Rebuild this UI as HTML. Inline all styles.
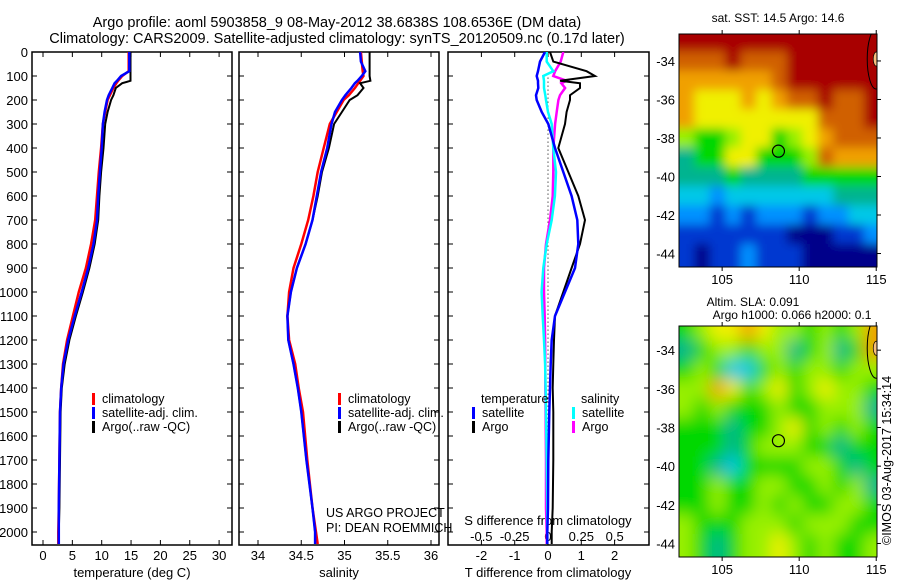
<!DOCTYPE html>
<html><head><meta charset="utf-8"><style>
body{margin:0;background:#fff}
svg{display:block;font-family:"Liberation Sans",sans-serif}
text{fill:#000}
</style></head><body>
<svg id="s" width="900" height="580" viewBox="0 0 900 580" xmlns="http://www.w3.org/2000/svg">
<defs>
<filter id="bl" x="-5%" y="-5%" width="110%" height="110%"><feGaussianBlur stdDeviation="5"/></filter>
<filter id="bl2" x="-5%" y="-5%" width="110%" height="110%"><feGaussianBlur stdDeviation="8"/></filter>
<clipPath id="c1"><rect x="679" y="34" width="198" height="233"/></clipPath>
<clipPath id="c2"><rect x="679" y="326" width="198" height="231"/></clipPath>
<clipPath id="p1"><rect x="32" y="52" width="200" height="493"/></clipPath>
<clipPath id="p2"><rect x="239" y="52" width="200" height="493"/></clipPath>
<clipPath id="p3"><rect x="448" y="52" width="201" height="493"/></clipPath>
</defs>
<text x="337" y="27" font-size="14.5" text-anchor="middle">Argo profile: aoml 5903858_9 08-May-2012 38.6838S 108.6536E (DM data)</text>
<text x="337" y="43" font-size="14.5" text-anchor="middle">Climatology: CARS2009. Satellite-adjusted climatology: synTS_20120509.nc (0.17d later)</text>
<g id="g"></g>
</svg>
<script>
const depth=[0,40,80,100,120,130,150,180,200,250,300,400,500,600,700,800,900,1000,1100,1200,1300,1400,1500,1700,1900,2000,2050];
const tClim=[14.6,14.6,14.6,13.5,12.8,12.5,12.0,11.4,11.0,10.6,10.2,9.9,9.5,9.2,8.9,8.2,7.3,6.1,5.1,4.1,3.4,3.1,2.9,2.8,2.7,2.6,2.6];
const tSat=[14.7,14.7,14.7,13.3,12.6,12.2,11.8,11.2,10.9,10.5,10.2,10.0,9.7,9.4,9.2,8.6,7.7,6.6,5.4,4.3,3.5,3.1,2.9,2.8,2.7,2.7,2.7];
const tArgo=[14.9,14.9,14.9,14.9,14.9,13.5,12.4,12.0,11.6,11.0,10.6,10.3,9.9,9.6,9.4,8.8,7.9,6.8,5.6,4.5,3.7,3.2,3.0,2.9,2.8,2.7,2.7];
const sClim=[35.19,35.2,35.21,35.22,35.18,35.16,35.12,35.05,34.99,34.91,34.83,34.76,34.69,34.64,34.58,34.50,34.41,34.36,34.34,34.36,34.43,34.47,34.52,34.57,34.63,34.67,34.69];
const sSat=[35.18,35.19,35.24,35.2,35.15,35.12,35.08,35.01,34.97,34.89,34.85,34.80,34.73,34.68,34.63,34.55,34.45,34.38,34.34,34.35,34.41,34.46,34.50,34.56,34.63,34.66,34.66];
const sArgo=[35.29,35.29,35.29,35.29,35.3,35.18,35.22,35.15,35.06,34.97,34.88,34.82,34.74,34.69,34.63,34.55,34.45,34.38,34.34,34.35,34.41,34.46,34.50,34.56,34.63,34.66,34.66];
const dtSat=[-0.09,-0.24,-0.3,-0.34,-0.3,-0.3,-0.29,-0.36,-0.34,-0.19,0.01,0.21,0.46,0.71,0.88,0.91,0.81,0.51,0.21,0.11,0.08,0.06,0.04,0.01,0.0,-0.02,-0.02];
const dtArgo=[0.06,0.16,1.16,1.41,0.36,0.96,0.96,0.66,0.66,0.56,0.51,0.31,0.61,0.91,1.11,0.96,0.71,0.46,0.21,0.18,0.16,0.14,0.16,0.16,0.14,0.11,0.11];
const dsSat=[-0.01,-0.01,0.04,-0.035,-0.03,-0.03,-0.03,-0.02,-0.015,0.0,0.028,0.04,0.06,0.052,0.028,-0.01,-0.035,-0.048,-0.04,-0.03,-0.022,-0.018,-0.015,-0.01,-0.006,-0.005,-0.005];
const dsArgo=[0.115,0.095,0.053,0.04,0.14,0.1,0.128,0.09,0.078,0.065,0.053,0.04,0.04,0.035,0.015,-0.015,-0.03,-0.03,-0.025,-0.022,-0.02,-0.02,-0.018,-0.015,-0.015,-0.01,-0.01];
const depthTicks=[0,100,200,300,400,500,600,700,800,900,1000,1100,1200,1300,1400,1500,1600,1700,1800,1900,2000];
const tTicks=[0,5,10,15,20,25,30];
const sTicks=[34,34.5,35,35.5,36];
const dtTicks=[-2,-1,0,1,2];
const dsTicks=[-0.5,-0.25,0,0.25,0.5];
const lonTicks=[105,110,115];
const latTicks=[-34,-36,-38,-40,-42,-44];
const sstGrid=[
[10,10,10,10,10,10,10,10,10,10,10,10,10],
[9,9,9,10,9,9,9,10,10,10,10,10,10],
[8,8,8,8,8,8,9,10,10,10,10,10,10],
[8,7,7,7,8,7,8,9,9,10,9,9,10],
[8,7,7,7,7,7,7,7,7,9,9,9,10],
[6,5,5,6,7,7,5,6,7,8,9,9,9],
[4,5,5,7,7,5,5,5,6,9,8,8,8],
[4,4,4,5,4,4,4,4,5,5,5,5,5],
[3,3,2,3,3,3,3,3,3,3,4,4,4],
[2,2,1,2,1,2,2,2,1,2,2,3,3],
[1,1,1,1,1,1,1,0,0,0,1,1,2],
[1,0,1,1,2,1,1,1,0,0,0,0,0]];
const slaGrid=[
[5,6,7,7,8,7,6,6,5,6,5,6,8],
[4,5,6,6,5,6,6,4,5,6,4,5,8],
[5,6,5,3,3,5,6,5,6,6,5,6,6],
[6,6,8,7,5,6,7,5,6,7,6,6,5],
[6,5,6,5,5,5,6,5,5,6,6,6,4],
[5,5,5,4,5,5,6,7,5,6,5,6,5],
[5,5,5,4,5,6,6,6,5,5,4,5,5],
[5,5,4,3,5,5,5,5,6,6,5,4,5],
[5,5,6,5,5,6,6,5,5,6,5,6,4],
[5,5,6,5,5,6,5,6,5,5,6,6,5],
[6,5,5,5,6,6,6,5,6,6,6,5,5],
[6,5,4,5,6,6,7,6,5,6,5,5,6]];
const pal=["#00008a","#0038d0","#0090ff","#00c8e8","#00b490","#00d800","#98f000","#f0f000","#f0a000","#d06000","#a80000"];
const argoLon=108.6536, argoLat=-38.6838;

const NS="http://www.w3.org/2000/svg";
const G=document.getElementById('g');
function el(t,a,p){const e=document.createElementNS(NS,t);for(const k in a)e.setAttribute(k,a[k]);(p||G).appendChild(e);return e;}
const yD=d=>52+d*0.24;
const xT=v=>43+v*5.87;
const xS=v=>258+(v-34)*86.5;
const xDT=v=>548+v*33.3;
const xDS=v=>548+v*133.3;

const panels=[[32,232,'temperature-panel'],[239,439,'salinity-panel'],[448,649,'difference-panel']];
panels.forEach(p=>{
  const r=el('rect',{x:p[0],y:52,width:p[1]-p[0],height:493,fill:'none',stroke:'#000','stroke-width':1.5});
  
  
  depthTicks.forEach(d=>{
    el('line',{x1:p[0],x2:p[0]+5,y1:yD(d),y2:yD(d),stroke:'#000'});
    el('line',{x1:p[1]-5,x2:p[1],y1:yD(d),y2:yD(d),stroke:'#000'});
  });
});
depthTicks.forEach(d=>{
  const t=el('text',{x:28,y:yD(d)+5,'font-size':13,'text-anchor':'end'});
  t.textContent=d;
  
  
});
function xticks(arr,fx,y,cls){arr.forEach(v=>{
  const x=fx(v);
  el('line',{x1:x,x2:x,y1:52,y2:57,stroke:'#000'});
  el('line',{x1:x,x2:x,y1:540,y2:545,stroke:'#000'});
  const t=el('text',{x:x,y:y,'font-size':13,'text-anchor':'middle'});
  t.textContent=v;
  
  
});}
xticks(tTicks,xT,560,'temperature-tick-label');
xticks(sTicks,xS,560,'salinity-tick-label');
xticks(dtTicks,xDT,560,'t-diff-tick-label');
dsTicks.forEach(v=>{const t=el('text',{x:xDS(v),y:541,'font-size':13,'text-anchor':'middle'});t.textContent=v;
  
  });
function label(x,y,s,name,anchor,fs){const t=el('text',{x:x,y:y,'font-size':fs||13,'text-anchor':anchor||'middle'});t.textContent=s;
  
  return t;}
label(132,577,'temperature (deg C)','x-axis-title-temperature');
label(339,577,'salinity','x-axis-title-salinity');
label(548,577,'T difference from climatology','x-axis-title-t-diff');
label(548,525,'S difference from climatology','s-diff-axis-title');
label(326,517,'US ARGO PROJECT','project-credit','start',12.5);
label(326,532,'PI: DEAN ROEMMICH','pi-credit','start',12.5);

el('line',{x1:548,x2:548,y1:yD(90),y2:545,stroke:'#000','stroke-dasharray':'1,3'});

function series(xs,fx,color,w,clip,name){
  const pts=xs.map((v,i)=>fx(v).toFixed(1)+','+yD(depth[i]).toFixed(1)).join(' ');
  const pl=el('polyline',{points:pts,fill:'none',stroke:color,'stroke-width':w,'clip-path':'url(#'+clip+')'});
  
  
}
series(tClim,xT,'#ff0000',2.5,'p1','temp-climatology-line');
series(tArgo,xT,'#000',2,'p1','temp-argo-line');
series(tSat,xT,'#0000ff',2.5,'p1','temp-satellite-line');
series(sClim,xS,'#ff0000',2.5,'p2','sal-climatology-line');
series(sArgo,xS,'#000',2,'p2','sal-argo-line');
series(sSat,xS,'#0000ff',2.5,'p2','sal-satellite-line');
series(dsArgo,xDS,'#ff00ff',2.5,'p3','sdiff-argo-line');
series(dsSat,xDS,'#00ffff',2.5,'p3','sdiff-satellite-line');
series(dtArgo,xDT,'#000',2,'p3','tdiff-argo-line');
series(dtSat,xDT,'#0000ff',2.5,'p3','tdiff-satellite-line');

function legItem(x,y,color,txt,name){
  if(color)el('rect',{x:x,y:y-10,width:3,height:12,fill:color});
  label(x+10,y,txt,name,'start',12.5);
}
[92,338].forEach(x=>{
  legItem(x,403,'#ff0000','climatology','legend-climatology');
  legItem(x,417,'#0000ff','satellite-adj. clim.','legend-satellite-adj');
  legItem(x,431,'#000','Argo(..raw -QC)','legend-argo');
});
label(481,403,'temperature','legend-temperature-header','start',12.5);
legItem(472,417,'#0000ff','satellite','legend-t-satellite');
legItem(472,431,'#000','Argo','legend-t-argo');
label(581,403,'salinity','legend-salinity-header','start',12.5);
legItem(572,417,'#00ffff','satellite','legend-s-satellite');
legItem(572,431,'#ff00ff','Argo','legend-s-argo');

function map(grid,top,bottom,clip,blur,name){
  const lon0=102.2, lon1=115.05, lat0=top, lat1=bottom;
  const y0=clip==='c1'?34:326, y1=clip==='c1'?267:557;
  const fx=lo=>679+(lo-lon0)/(lon1-lon0)*198;
  const fy=la=>y0+(lat0-la)/(lat0-lat1)*(y1-y0);
  const g=el('g',{'clip-path':'url(#'+clip+')'});
  const g2=el('g',{filter:'url(#'+blur+')'},g);
  
  
  const nr=grid.length,nc=grid[0].length;
  grid.forEach((row,r)=>row.forEach((v,c)=>{
    const la=-32.5-r, lo=lon0+c;
    const x=c===0?660:fx(lo), xe=c===nc-1?900:fx(lo+1);
    const y=r===0?y0-20:fy(la), ye=r===nr-1?y1+20:fy(la-1);
    const cell=el('rect',{x:x,y:y,width:xe-x+0.5,height:ye-y+0.5,fill:pal[v]},g2);
    
  }));
  el('ellipse',{cx:fx(115),cy:fy(-33.9),rx:9,ry:30,fill:'none',stroke:'#000','stroke-width':1},g);
  el('ellipse',{cx:fx(115),cy:fy(-33.9),rx:3,ry:7,fill:'#f8c080',stroke:'#000','stroke-width':0.7},g);
  const m=el('circle',{cx:fx(argoLon),cy:fy(argoLat),r:6,fill:'none',stroke:'#000','stroke-width':1.2});
  
  
  el('rect',{x:679,y:y0,width:198,height:y1-y0,fill:'none',stroke:'#000','stroke-width':1});
  lonTicks.forEach(lo=>{const x=fx(lo);
    el('line',{x1:x,x2:x,y1:y0-4,y2:y0,stroke:'#000'});
    el('line',{x1:x,x2:x,y1:y1,y2:y1+4,stroke:'#000'});
    label(x,y1+17,lo,'map-lon-tick-label','middle',13);});
  latTicks.forEach(la=>{const y=fy(la);
    el('line',{x1:877,x2:881,y1:y,y2:y,stroke:'#000'});
    label(675,y+5,la,'map-lat-tick-label','end',13);});
}
map(sstGrid,-32.6,-44.7,'c1','bl','sst-map');
map(slaGrid,-32.75,-44.7,'c2','bl2','sla-map');
label(778,22,'sat. SST: 14.5 Argo: 14.6','sst-map-title','middle',12);
label(753,306,'Altim. SLA: 0.091','sla-map-title','middle',12);
label(792,319,'Argo h1000: 0.066 h2000: 0.1','sla-map-subtitle','middle',12);
const st=label(0,0,'©IMOS 03-Aug-2017 15:34:14','timestamp','start',12.5);
st.setAttribute('transform','translate(891,545) rotate(-90)');
</script>
</body></html>
